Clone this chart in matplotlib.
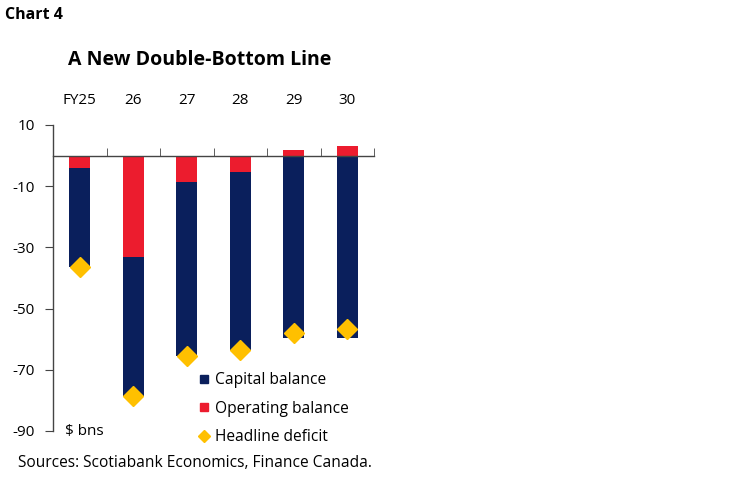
import matplotlib.pyplot as plt
import numpy as np
from matplotlib.lines import Line2D

plt.rcParams['font.family'] = ['Open Sans', 'DejaVu Sans']
plt.rcParams['axes.unicode_minus'] = False

years = ['FY25', '26', '27', '28', '29', '30']
capital = [-32.3, -45.4, -56.8, -58.1, -59.6, -59.6]
operating = [-4.0, -33.0, -8.7, -5.5, 1.7, 3.0]
headline = [-36.3, -78.5, -65.5, -63.6, -58.0, -56.7]

navy = '#0a1f5c'
red = '#ec1c2e'
gold = '#ffc000'

fig = plt.figure(figsize=(7.49, 4.82), dpi=100)
ax = fig.add_axes([53/749, 1-431/482, 321/749, (431-125)/482])

x = np.arange(len(years))
cap_bottom = np.minimum(operating, 0)
ax.bar(x, operating, width=0.4, color=red, zorder=2)
ax.bar(x, capital, bottom=cap_bottom, width=0.4, color=navy, zorder=2)
ax.plot(x, headline, 'D', color=gold, markersize=10, ls='none', zorder=3)

ax.set_xlim(-0.5, len(years) - 0.5)
ax.set_ylim(-90, 10)
ax.set_yticks(np.arange(-90, 11, 20))
ax.set_yticklabels([str(v) for v in range(-90, 11, 20)])

ax.spines['top'].set_visible(False)
ax.spines['right'].set_visible(False)
ax.spines['bottom'].set_position(('data', 0))
for s in ['left', 'bottom']:
    ax.spines[s].set_color('#444444')
    ax.spines[s].set_linewidth(1.0)

ax.set_xticks(x)
ax.set_xticklabels(years)
ax.set_xticks(np.arange(0.5, len(years)), minor=True)
ax.tick_params(axis='x', which='major', bottom=False, top=False,
               labelbottom=False, labeltop=True, pad=9, labelsize=11)
ax.tick_params(axis='x', which='minor', bottom=True, direction='in',
               length=6, color='#444444')
ax.tick_params(axis='y', direction='out', length=6, color='#444444',
               labelsize=11, pad=7)

ax.text(0.037, -90, r'\$ bns', fontsize=11, va='center', ha='left',
        transform=ax.get_yaxis_transform())

handles = [
    Line2D([], [], marker='s', color=navy, ls='none', markersize=6),
    Line2D([], [], marker='s', color=red, ls='none', markersize=6),
    Line2D([], [], marker='D', color=gold, ls='none', markersize=6),
]
labels = ['Capital balance', 'Operating balance', 'Headline deficit']
fig.legend(handles, labels, loc='upper left', bbox_to_anchor=(192/749, 1-366/482),
           frameon=False, fontsize=11.2, handlelength=0.8, handletextpad=0.3,
           labelspacing=0.8, borderaxespad=0)

fig.text(5/749, 1-15/482, 'Chart 4', fontsize=11.5, fontweight='bold',
         va='center', ha='left')
fig.text(200/749, 1-60/482, 'A New Double-Bottom Line', fontsize=14,
         fontweight='bold', va='center', ha='center')
fig.text(18/749, 1-463/482, 'Sources: Scotiabank Economics, Finance Canada.',
         fontsize=11.2, va='center', ha='left')

fig.savefig('out.png', dpi=100)
